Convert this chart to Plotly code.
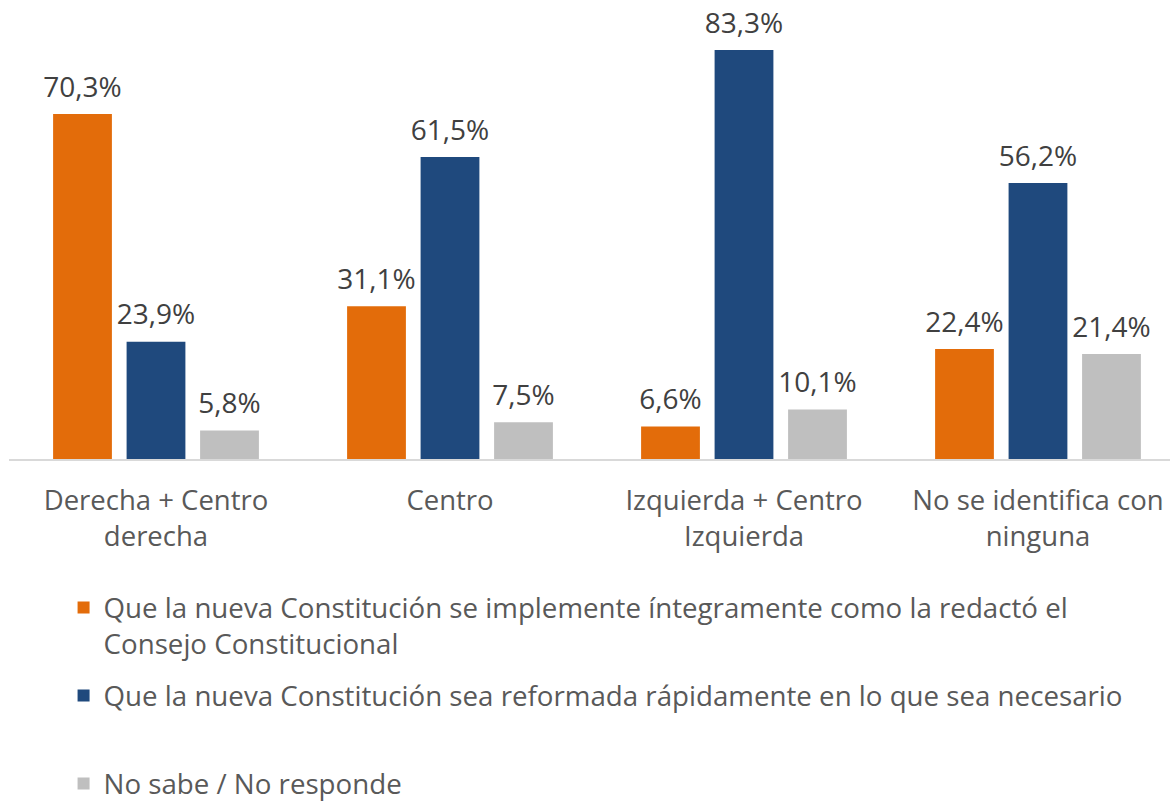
import plotly.graph_objects as go

categories = ["Derecha + Centro<br>derecha", "Centro", "Izquierda + Centro<br>Izquierda", "No se identifica con<br>ninguna"]
series_names = [
    "Que la nueva Constitución se implemente íntegramente como la redactó el<br>Consejo Constitucional",
    "Que la nueva Constitución sea reformada rápidamente en lo que sea necesario<br> ",
    "No sabe / No responde",
]
implementar = [70.3, 31.1, 6.6, 22.4]
reformar = [23.9, 61.5, 83.3, 56.2]
no_sabe = [5.8, 7.5, 10.1, 21.4]
colors = ["#E36C0A", "#1F497D", "#BFBFBF"]

FONT = "Open Sans"
fig = go.Figure()
all_vals = [implementar, reformar, no_sabe]
for i, (name, vals, col) in enumerate(zip(series_names, all_vals, colors)):
    fig.add_trace(go.Bar(
        x=categories, y=vals, name=name, legendgroup=f"g{i}",
        marker=dict(color=col, line=dict(width=0)),
    ))
for i, vals in enumerate(all_vals):
    fig.add_trace(go.Scatter(
        x=categories, y=vals, mode="markers+text", showlegend=False, hoverinfo="skip",
        marker=dict(size=15, opacity=0, color="white"),
        texttemplate="%{y:.1f}%", textposition="top center", cliponaxis=False,
        textfont=dict(family=FONT, size=28, color="#404040"),
    ))

fig.update_layout(
    width=1170, height=804,
    margin=dict(l=9, r=0, t=0, b=345),
    paper_bgcolor="white", plot_bgcolor="white",
    barmode="group", bargap=0.25, bargroupgap=0.2,
    scattermode="group", scattergap=0.25,
    separators=",.",
    font=dict(family=FONT, size=28, color="#595959"),
    xaxis=dict(range=[-0.5, 3.449], showline=True, linecolor="#D9D9D9", linewidth=2,
               ticks="", ticklabelstandoff=16, tickfont=dict(size=27.5, color="#595959")),
    yaxis=dict(range=[0, 93.5], visible=False, showgrid=False),
    showlegend=True,
    legend=dict(orientation="v", xref="paper", x=0.047, xanchor="left",
                yref="container", y=0.2749, yanchor="top",
                valign="top", font=dict(size=27.7, color="#595959"), tracegroupgap=13,
                bgcolor="rgba(0,0,0,0)"),
)
fig.write_html("out.html", config={"displayModeBar": False},
               post_script="document.body.style.margin='0';")
